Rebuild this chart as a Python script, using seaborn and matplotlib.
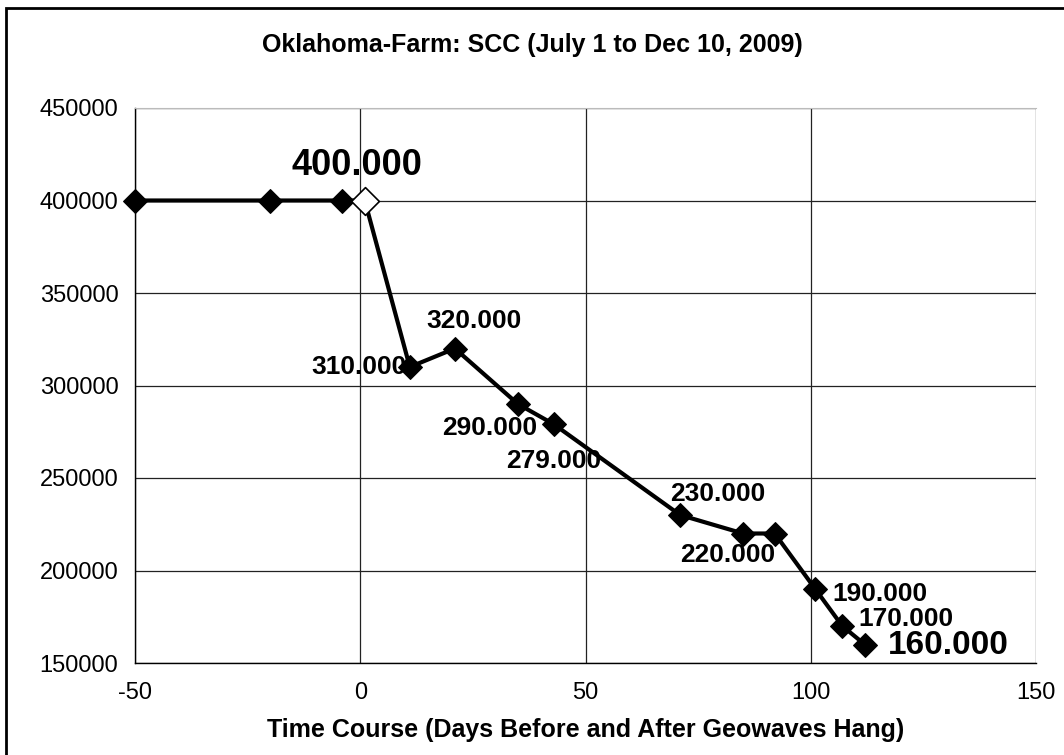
import matplotlib
matplotlib.use("Agg")
import matplotlib.pyplot as plt
import seaborn as sns
import pandas as pd
from matplotlib.patches import Rectangle

# ---- data ----
days = [-50, -20, -4, 1, 11, 21, 35, 43, 71, 85, 92, 101, 107, 112]
scc = [400000, 400000, 400000, 400000, 310000, 320000, 290000, 279000,
       230000, 220000, 220000, 190000, 170000, 160000]
hang_day = [1]
hang_scc = [400000]
labels = ["", "", "", "400.000", "310.000", "320.000", "290.000", "279.000",
          "230.000", "220.000", "", "190.000", "170.000", "160.000"]
x_ticks = [-50, 0, 50, 100, 150]
y_ticks = [150000, 200000, 250000, 300000, 350000, 400000, 450000]

title = "Oklahoma-Farm: SCC (July 1 to Dec 10, 2009)"
xlabel = "Time Course (Days Before and After Geowaves Hang)"

# ---- style ----
sns.set_theme(style="white")
plt.rcParams["font.family"] = ["Liberation Sans", "DejaVu Sans"]
plt.rcParams["text.color"] = "black"
plt.rcParams["axes.labelcolor"] = "black"
plt.rcParams["xtick.color"] = "black"
plt.rcParams["ytick.color"] = "black"

fig = plt.figure(figsize=(10.64, 7.55), dpi=100)
ax = fig.add_axes([135 / 1064, 1 - 663 / 755, (1036 - 135) / 1064, (663 - 108) / 755])

df = pd.DataFrame({"day": days, "scc": scc})
sns.lineplot(data=df, x="day", y="scc", ax=ax, color="black", linewidth=3,
             marker="D", markersize=12, markerfacecolor="black",
             markeredgecolor="black", zorder=3, clip_on=False)
hdf = pd.DataFrame({"day": hang_day, "scc": hang_scc})
sns.scatterplot(data=hdf, x="day", y="scc", ax=ax, marker="D", s=200,
                facecolor="white", edgecolor="black", linewidth=1.2, zorder=4,
                clip_on=False)

ax.set_xlim(-50, 150)
ax.set_ylim(150000, 450000)
ax.set_xticks(x_ticks)
ax.set_yticks(y_ticks)
ax.set_xticklabels([str(t) for t in x_ticks], fontsize=17)
ax.set_yticklabels([str(t) for t in y_ticks], fontsize=17)
ax.tick_params(axis="x", direction="out", length=5, width=1, color="black", pad=9)
ax.tick_params(axis="y", direction="out", length=8, width=1, color="black", pad=4)
ax.grid(True, color="#222222", linewidth=0.9)
ax.set_axisbelow(True)
ax.spines["top"].set_color("#bbbbbb")
ax.spines["top"].set_linewidth(0.8)
ax.spines["right"].set_visible(False)
for side in ["left", "bottom"]:
    ax.spines[side].set_color("black")
    ax.spines[side].set_linewidth(1)

ax.set_xlabel(xlabel, fontsize=18, fontweight="bold", labelpad=10, color="black")
ax.set_ylabel("")
fig.text(0.5, 1 - 45 / 755, title, ha="center", va="center",
         fontsize=18, fontweight="bold", color="black")

# label offsets in pixels (dx, dy, ha, size)
offsets = {
    3: (-8, 35, "center", 26),
    4: (-3, 0, "right", 19),
    5: (19, 27, "center", 19),
    6: (-28, -24, "center", 19),
    7: (0, -37, "center", 19),
    8: (38, 21, "center", 19),
    9: (-15, -21, "center", 19),
    11: (17, -5, "left", 19),
    12: (16, 7, "left", 19),
    13: (23, -1, "left", 24),
}
for i, txt in enumerate(labels):
    if not txt:
        continue
    dx, dy, ha, size = offsets[i]
    ax.annotate(txt, (days[i], scc[i]), xytext=(dx, dy), textcoords="offset pixels",
                ha=ha, va="center", fontsize=size, fontweight="bold", color="black",
                zorder=5)

# figure border
fig.patches.append(Rectangle((6 / 1064, -0.01), 1.1, 1 - 8 / 755 + 0.01,
                             transform=fig.transFigure, fill=False,
                             edgecolor="black", linewidth=2))

fig.savefig("out.png", dpi=100)
